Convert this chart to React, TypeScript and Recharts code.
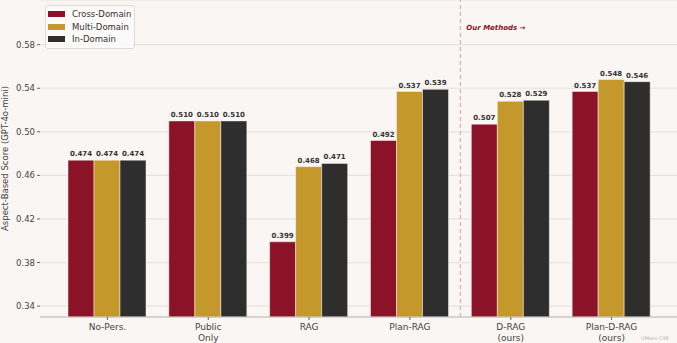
import { Bar, BarChart, CartesianGrid, LabelList, Legend, ReferenceLine, XAxis, YAxis } from 'recharts'

const categories = ['No-Pers.', 'Public\nOnly', 'RAG', 'Plan-RAG', 'D-RAG\n(ours)', 'Plan-D-RAG\n(ours)']
const crossDomain = [0.474, 0.51, 0.399, 0.492, 0.507, 0.537]
const multiDomain = [0.474, 0.51, 0.468, 0.537, 0.528, 0.548]
const inDomain = [0.474, 0.51, 0.471, 0.539, 0.529, 0.546]
const yTicks = [0.34, 0.38, 0.42, 0.46, 0.5, 0.54, 0.58]

const series = [
  { key: 'cross', name: 'Cross-Domain', color: '#8a1327' },
  { key: 'multi', name: 'Multi-Domain', color: '#c4982a' },
  { key: 'inDom', name: 'In-Domain', color: '#2e2e2e' },
]

const data = categories.map((c, i) => ({
  category: c,
  idx: i,
  cross: crossDomain[i],
  multi: multiDomain[i],
  inDom: inDomain[i],
}))

function CategoryTick({ x, y, payload }: any) {
  const lines = String(payload.value).split('\n')
  return (
    <g transform={`translate(${x},${y})`}>
      <text textAnchor="middle" fontSize={9} fill="#444">
        {lines.map((l, i) => (
          <tspan key={i} x={0} dy={i === 0 ? 8 : 11}>
            {l}
          </tspan>
        ))}
      </text>
    </g>
  )
}

// rotated y-axis title, pushed to the left edge like the original
function YLabel({ viewBox }: any) {
  const cy = viewBox ? viewBox.y + viewBox.height / 2 : 158
  return (
    <text
      x={8}
      y={cy}
      transform={`rotate(-90, 8, ${cy})`}
      textAnchor="middle"
      fontSize={8.5}
      fill="#444"
    >
      Aspect-Based Score (GPT-4o-mini)
    </text>
  )
}

function MethodsLabel({ viewBox }: any) {
  return (
    <text
      x={(viewBox?.x ?? 461) + 6}
      y={30}
      fontSize={7}
      fontWeight="bold"
      fontStyle="italic"
      fill="#8a1327"
    >
      Our Methods →
    </text>
  )
}

function LegendBox() {
  return (
    <div
      style={{
        width: 86,
        border: '1px solid #dedad6',
        borderRadius: 3,
        background: 'rgba(252,250,248,0.85)',
        padding: '2px 0 2px 2px',
      }}
    >
      {series.map((s) => (
        <div key={s.key} style={{ display: 'flex', alignItems: 'center', height: 12.5 }}>
          <span style={{ width: 17, height: 6, background: s.color, marginRight: 7 }} />
          <span style={{ fontSize: 8.5, color: '#333', lineHeight: '12px' }}>{s.name}</span>
        </div>
      ))}
    </div>
  )
}

export default function App() {
  return (
    <div
      style={{
        position: 'relative',
        width: 677,
        height: 343,
        background: '#f9f6f3',
        fontFamily: '"DejaVu Sans", sans-serif',
        overflow: 'hidden',
      }}
    >
      <style>{'body{margin:0}'}</style>
      <BarChart
        width={677}
        height={343}
        data={data}
        margin={{ top: 0, right: 0, left: 0, bottom: 0 }}
        barGap={0}
        barSize={26}
      >
        <CartesianGrid vertical={false} stroke="#e8e3de" strokeWidth={1.2} />
        <XAxis
          dataKey="category"
          height={26}
          padding={{ left: 17, right: 15 }}
          interval={0}
          tickSize={3}
          tickMargin={2}
          tick={<CategoryTick />}
          axisLine={{ stroke: '#bdbab6', strokeWidth: 1.2 }}
          tickLine={{ stroke: '#666' }}
        />
        {/* hidden numeric axis so the divider can sit between two groups */}
        <XAxis
          xAxisId="num"
          dataKey="idx"
          type="number"
          domain={[-0.5, 5.5]}
          allowDataOverflow
          hide
          padding={{ left: 17, right: 15 }}
        />
        <YAxis
          width={40}
          domain={[0.33, 0.621]}
          ticks={yTicks}
          allowDataOverflow
          axisLine={false}
          tickSize={3}
          tickMargin={2}
          tickLine={{ stroke: '#666' }}
          tick={{ fontSize: 8.5, fill: '#444' }}
          tickFormatter={(v: number) => v.toFixed(2)}
          label={<YLabel />}
        />
        <Legend
          layout="vertical"
          align="center"
          verticalAlign="middle"
          wrapperStyle={{ left: 45, top: 5, width: 88 }}
          content={() => <LegendBox />}
        />
        <ReferenceLine
          xAxisId="num"
          x={3.5}
          stroke="#d69ea7"
          strokeDasharray="4 3"
          strokeWidth={1}
          label={<MethodsLabel />}
        />
        {series.map((s) => (
          <Bar
            key={s.key}
            dataKey={s.key}
            name={s.name}
            fill={s.color}
            stroke="#f9f6f3"
            strokeWidth={0.5}
            isAnimationActive={false}
          >
            <LabelList
              dataKey={s.key}
              position="top"
              offset={4}
              fontSize={7}
              fontWeight="bold"
              fill="#333"
              formatter={(v: any) => Number(v).toFixed(3)}
            />
          </Bar>
        ))}
      </BarChart>
      <span
        style={{
          position: 'absolute',
          left: 641,
          top: 335,
          fontSize: 5,
          color: '#b9b5b1',
        }}
      >
        UMass CIIR
      </span>
    </div>
  )
}
